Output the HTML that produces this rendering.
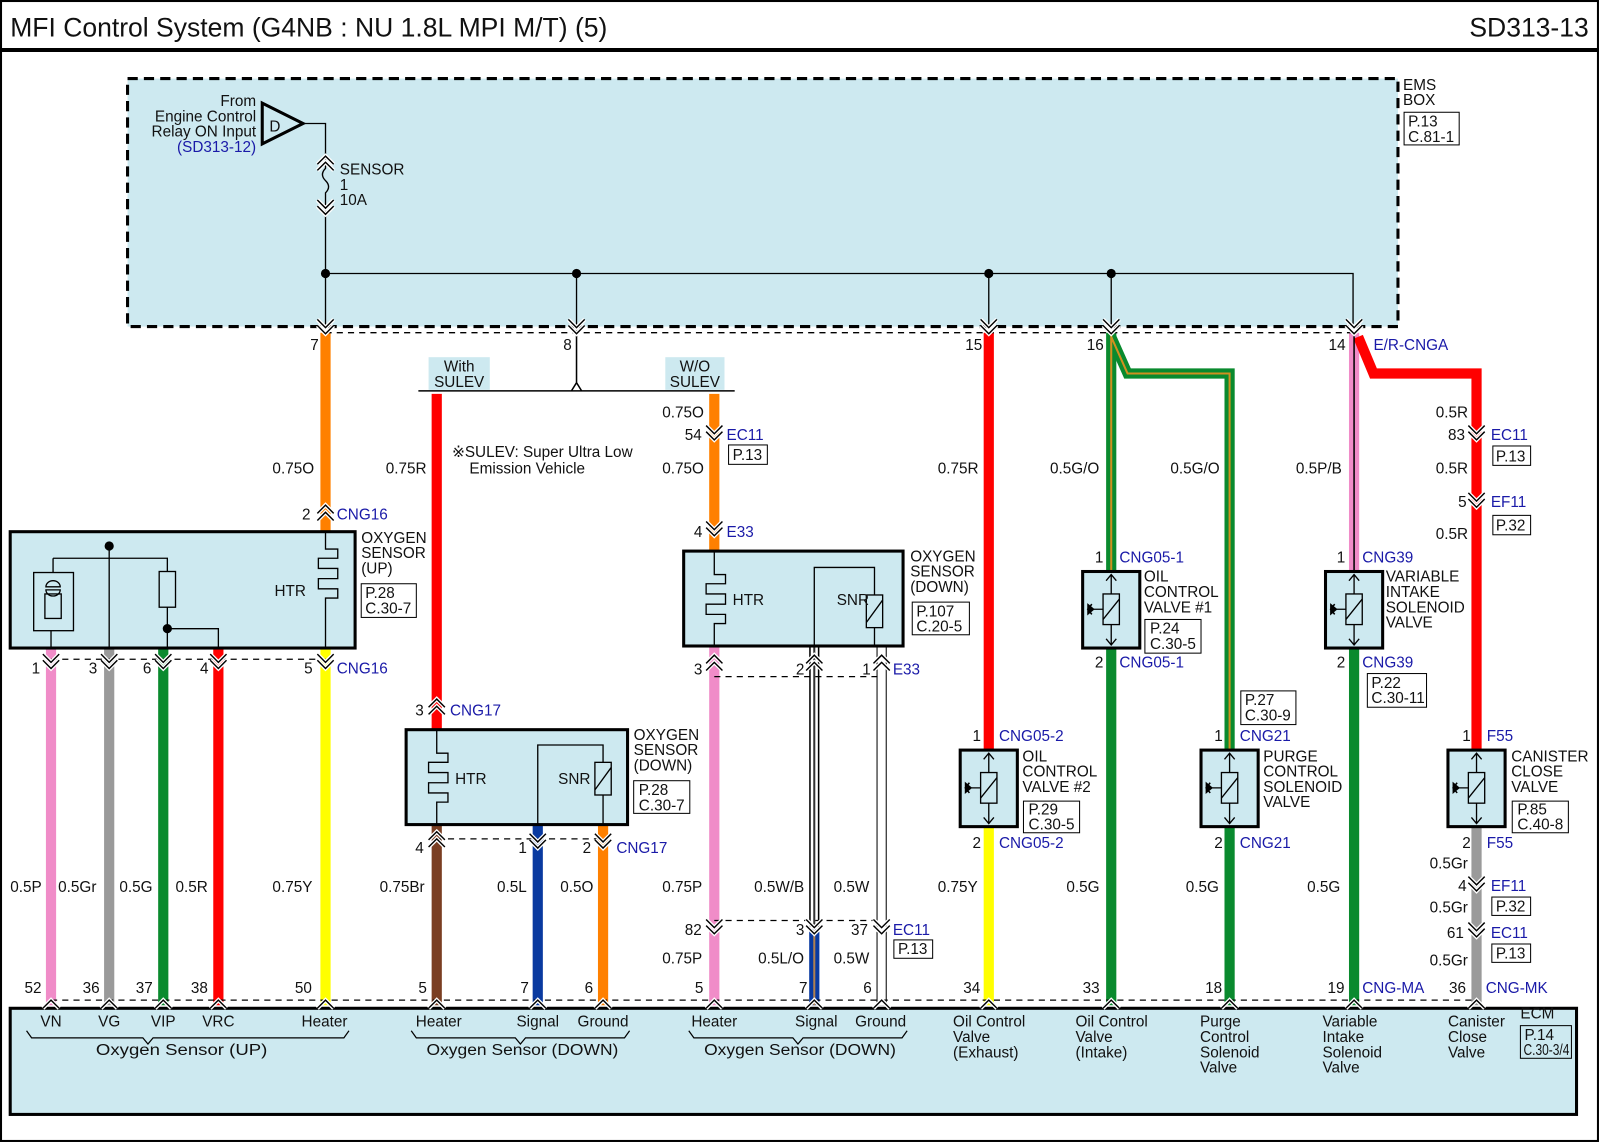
<!DOCTYPE html>
<html><head><meta charset="utf-8"><style>
html,body{margin:0;padding:0;background:#fff}
svg{display:block}
text{font-family:"Liberation Sans",sans-serif;font-size:15px;fill:#111}
.b{fill:#1a1aa8}
.t{font-size:26px}
</style></head><body>
<svg width="1600" height="1143" viewBox="0 0 1568 1120" preserveAspectRatio="none" xmlns="http://www.w3.org/2000/svg">
<defs>
<g id="cv"><path d="M-8,-9 L0,-1 L8,-9 M-8,-3 L0,5 L8,-3" stroke="#fff" stroke-width="4" fill="none"/><path d="M-8,-9 L0,-1 L8,-9 M-8,-3 L0,5 L8,-3" stroke="#000" stroke-width="1.4" fill="none"/></g>
<g id="tri"><path d="M-8,0 L0,-8 L8,0" stroke="#fff" stroke-width="4" fill="none"/><path d="M-8,0 L0,-8 L8,0" stroke="#000" stroke-width="1.4" fill="none"/></g>
<g id="valve">
<rect x="-28" y="0" width="56" height="75" fill="#cde9f0" stroke="#000" stroke-width="3"/>
<path d="M0,3 V72 M-5,9 L0,3 L5,9 M-5,66 L0,72 L5,66" stroke="#000" stroke-width="1.3" fill="none"/>
<rect x="-8" y="22" width="16" height="30" fill="#cde9f0" stroke="#000" stroke-width="1.3"/>
<path d="M-8,47 L8,27 M-8,37 H-17" stroke="#000" stroke-width="1.3"/>
<path d="M-23,32 L-17,37 L-23,42 Z M-23,32 L-23,42" fill="#000" stroke="#000"/>
<path d="M-19,32 L-23,37 L-19,42" fill="none" stroke="#000" stroke-width="1.5"/>
</g>
</defs>

<rect x="1" y="1" width="1565" height="1117" fill="none" stroke="#000" stroke-width="2"/>
<line x1="0" y1="49" x2="1567" y2="49" stroke="#000" stroke-width="4"/>
<text class="t" x="10" y="36">MFI Control System (G4NB : NU 1.8L MPI M/T) (5)</text>
<text class="t" x="1557" y="36" text-anchor="end">SD313-13</text>

<rect x="125" y="77" width="1245" height="243" fill="#cde9f0" stroke="#000" stroke-width="3" stroke-dasharray="10,6"/>
<text x="1375" y="88">EMS</text><text x="1375" y="103">BOX</text>
<rect x="1376" y="110" width="54" height="32" fill="none" stroke="#000"/>
<text x="1380" y="124">P.13</text><text x="1380" y="139">C.81-1</text>

<path d="M257,101 L297,121 L257,141 Z" fill="none" stroke="#000" stroke-width="3"/>
<text x="264" y="129" font-size="14">D</text>
<g text-anchor="end"><text x="251" y="104">From</text><text x="251" y="119">Engine Control</text><text x="251" y="134">Relay ON Input</text><text x="251" y="149" class="b">(SD313-12)</text></g>
<path d="M297,121 H319 V148 M319,210 V320" stroke="#000" stroke-width="1.3" fill="none"/>
<path d="M319,148 V165 q-6,6 0,12 q6,6 0,12 V210" stroke="#000" stroke-width="1.3" fill="none"/>
<use href="#cv" transform="translate(319,158) scale(1,-1)"/>
<use href="#cv" transform="translate(319,205)"/>
<text x="333" y="171">SENSOR</text><text x="333" y="186">1</text><text x="333" y="201">10A</text>
<path d="M319,268 H1326 V318 M565,268 V318 M969,268 V318 M1089,268 V318" stroke="#000" stroke-width="1.3" fill="none"/>
<g fill="#000"><circle cx="319" cy="268" r="4.5"/><circle cx="565" cy="268" r="4.5"/><circle cx="969" cy="268" r="4.5"/><circle cx="1089" cy="268" r="4.5"/></g>

<rect x="10" y="988" width="1535" height="104" fill="#cde9f0" stroke="#000" stroke-width="3"/>

<g stroke-width="10" fill="none">
<path d="M319,326 V520" stroke="#ff8000"/>
<path d="M319,636 V985" stroke="#ffff00"/>
<path d="M50,636 V985" stroke="#f08cc8"/>
<path d="M107,636 V985" stroke="#9a9a9a"/>
<path d="M160,636 V985" stroke="#0a8a2e"/>
<path d="M214,636 V985" stroke="#ff0000"/>
<path d="M428,386 V715" stroke="#ff0000"/>
<path d="M700,386 V540" stroke="#ff8000"/>
<path d="M428,808 V985" stroke="#7a3e22"/>
<path d="M527,808 V985" stroke="#0a3aa0"/>
<path d="M591,808 V985" stroke="#ff8000"/>
<path d="M700,634 V985" stroke="#f08cc8"/>
<path d="M969,326 V735" stroke="#ff0000"/>
<path d="M969,810 V985" stroke="#ffff00"/>
<path d="M1089,326 V560" stroke="#0a8a2e"/>
<path d="M1089,330 L1105,366 H1205 V735" stroke="#0a8a2e"/>
<path d="M1089,635 V985 M1205,810 V985 M1327,635 V985" stroke="#0a8a2e"/>
<path d="M1327,326 V560" stroke="#f08cc8"/>
<path d="M1331,330 L1346,366 H1447 V735" stroke="#ff0000"/>
<path d="M1447,810 V985" stroke="#9a9a9a"/>
<path d="M798,910 V985" stroke="#0a3aa0"/>
</g>
<g stroke-width="2" fill="none">
<path d="M1089,326 V560 M1089,330 L1105,366 H1205 V735" stroke="#d09020"/>
<path d="M1327,326 V560" stroke="#000" stroke-width="1.5"/>
<path d="M798,910 V985" stroke="#b08050"/>
</g>
<g fill="none">
<path d="M798,633 V910" stroke="#000" stroke-width="10"/>
<path d="M798,633 V910" stroke="#fff" stroke-width="7"/>
<path d="M798,633 V910" stroke="#333" stroke-width="2"/>
<path d="M864,633 V985" stroke="#000" stroke-width="10"/>
<path d="M864,633 V985" stroke="#fff" stroke-width="8"/>
</g>

<path d="M565,320 V375 L570,383 M565,375 L560,383 M410,383 H720" stroke="#000" stroke-width="1.5" fill="none"/>
<rect x="420" y="350" width="60" height="32" fill="#cde9f0"/>
<text x="450" y="364" text-anchor="middle">With</text><text x="450" y="379" text-anchor="middle">SULEV</text>
<rect x="652" y="350" width="58" height="32" fill="#cde9f0"/>
<text x="681" y="364" text-anchor="middle">W/O</text><text x="681" y="379" text-anchor="middle">SULEV</text>
<text x="443" y="448">※SULEV: Super Ultra Low</text><text x="460" y="464">Emission Vehicle</text>

<g stroke="#000" stroke-width="1.3" stroke-dasharray="6,5" fill="none">
<path d="M319,326 H1330"/>
<path d="M50,646 H319"/>
<path d="M428,822 H591"/>
<path d="M700,663 H864"/>
<path d="M700,902 H864"/>
<path d="M50,980 H1447"/>
</g>

<use href="#cv" transform="translate(319,322)"/><use href="#cv" transform="translate(565,322)"/><use href="#cv" transform="translate(969,322)"/><use href="#cv" transform="translate(1089,322)"/><use href="#cv" transform="translate(1327,322)"/>
<text x="304" y="343">7</text><text x="552" y="343">8</text><text x="946" y="343">15</text><text x="1065" y="343">16</text><text x="1302" y="343">14</text><text x="1346" y="343" class="b">E/R-CNGA</text>

<rect x="10" y="521" width="338" height="114" fill="#cde9f0" stroke="#000" stroke-width="3"/>
<g stroke="#000" stroke-width="1.3" fill="none">
<path d="M52,547 H164 V560 M107,535 V635 M52,547 V561 M164,595 V635 M164,616 H214 V635 M50,618 V635"/>
<rect x="33" y="561" width="39" height="57"/>
<rect x="44" y="582" width="16" height="24"/>
<rect x="156" y="560" width="16" height="35"/>
<path d="M319,520 V538 H331 V547 H312 V557 H331 V567 H312 V577 H331 V586 H319 V635"/>
</g>
<path d="M45,575 a7,6 0 0 1 14,0 Z M45,578 a7,6 0 0 0 14,0 Z" fill="none" stroke="#000" stroke-width="1.3"/>
<circle cx="107" cy="535" r="4.5"/><circle cx="164" cy="616" r="4.5"/>
<text x="269" y="584">HTR</text>
<use href="#tri" transform="translate(319,510)"/><use href="#tri" transform="translate(319,503)"/>
<text x="296" y="509">2</text><text x="330" y="509" class="b">CNG16</text>
<text x="354" y="532">OXYGEN</text><text x="354" y="547">SENSOR</text><text x="354" y="562">(UP)</text>
<rect x="354" y="572" width="54" height="33" fill="none" stroke="#000"/><text x="358" y="586">P.28</text><text x="358" y="601">C.30-7</text>
<use href="#cv" transform="translate(50,650)"/><use href="#cv" transform="translate(107,650)"/><use href="#cv" transform="translate(160,650)"/><use href="#cv" transform="translate(214,650)"/><use href="#cv" transform="translate(319,650)"/>
<text x="31" y="660">1</text><text x="87" y="660">3</text><text x="140" y="660">6</text><text x="196" y="660">4</text><text x="298" y="660">5</text><text x="330" y="660" class="b">CNG16</text>

<use href="#tri" transform="translate(428,700)"/><use href="#tri" transform="translate(428,693)"/>
<text x="407" y="701">3</text><text x="441" y="701" class="b">CNG17</text>
<rect x="398" y="715" width="217" height="93" fill="#cde9f0" stroke="#000" stroke-width="3"/>
<g stroke="#000" stroke-width="1.3" fill="none">
<path d="M428,715 V738 H439 V747 H420 V757 H439 V767 H420 V777 H439 V786 H428 V808"/>
<path d="M527,808 V730 H591 V747 M591,779 V808"/>
<rect x="583" y="747" width="16" height="32"/><path d="M583,774 L599,752"/>
</g>
<text x="446" y="768">HTR</text><text x="547" y="768">SNR</text>
<text x="621" y="725">OXYGEN</text><text x="621" y="740">SENSOR</text><text x="621" y="755">(DOWN)</text>
<rect x="621" y="765" width="55" height="32" fill="none" stroke="#000"/><text x="626" y="779">P.28</text><text x="626" y="794">C.30-7</text>
<use href="#tri" transform="translate(428,830)"/><use href="#tri" transform="translate(428,823)"/>
<use href="#cv" transform="translate(527,826)"/><use href="#cv" transform="translate(591,826)"/>
<text x="407" y="836">4</text><text x="508" y="836">1</text><text x="571" y="836">2</text><text x="604" y="836" class="b">CNG17</text>

<text x="649" y="409">0.75O</text>
<use href="#cv" transform="translate(700,426)"/><text x="671" y="431">54</text><text x="712" y="431" class="b">EC11</text>
<rect x="714" y="436" width="38" height="19" fill="none" stroke="#000"/><text x="718" y="451">P.13</text>
<text x="649" y="464">0.75O</text>
<use href="#cv" transform="translate(700,520)"/><text x="680" y="526">4</text><text x="712" y="526" class="b">E33</text>
<rect x="670" y="540" width="215" height="93" fill="#cde9f0" stroke="#000" stroke-width="3"/>
<g stroke="#000" stroke-width="1.3" fill="none">
<path d="M700,540 V563 H711 V572 H692 V582 H711 V592 H692 V602 H711 V611 H700 V633"/>
<path d="M798,633 V556 H857 V583 M857,615 V633"/>
<rect x="849" y="583" width="16" height="32"/><path d="M849,610 L865,588"/>
</g>
<text x="718" y="593">HTR</text><text x="820" y="593">SNR</text>
<text x="892" y="550">OXYGEN</text><text x="892" y="565">SENSOR</text><text x="892" y="580">(DOWN)</text>
<rect x="894" y="590" width="56" height="32" fill="none" stroke="#000"/><text x="898" y="604">P.107</text><text x="898" y="619">C.20-5</text>
<use href="#tri" transform="translate(700,657)"/><use href="#tri" transform="translate(700,650)"/>
<use href="#tri" transform="translate(798,657)"/><use href="#tri" transform="translate(798,650)"/>
<use href="#tri" transform="translate(864,657)"/><use href="#tri" transform="translate(864,650)"/>
<text x="680" y="661">3</text><text x="780" y="661">2</text><text x="845" y="661">1</text><text x="875" y="661" class="b">E33</text>
<use href="#cv" transform="translate(700,910)"/><use href="#cv" transform="translate(798,910)"/><use href="#cv" transform="translate(864,910)"/>
<text x="671" y="916">82</text><text x="780" y="916">3</text><text x="834" y="916">37</text><text x="875" y="916" class="b">EC11</text>
<rect x="876" y="921" width="38" height="18" fill="none" stroke="#000"/><text x="880" y="935">P.13</text>

<use href="#valve" transform="translate(969,735)"/>
<use href="#valve" transform="translate(1089,560)"/>
<use href="#valve" transform="translate(1205,735)"/>
<use href="#valve" transform="translate(1327,560)"/>
<use href="#valve" transform="translate(1447,735)"/>

<text x="953" y="726">1</text><text x="979" y="726" class="b">CNG05-2</text>
<text x="1002" y="746">OIL</text><text x="1002" y="761">CONTROL</text><text x="1002" y="776">VALVE #2</text>
<rect x="1003" y="785" width="55" height="31" fill="none" stroke="#000"/><text x="1008" y="798">P.29</text><text x="1008" y="813">C.30-5</text>
<text x="953" y="831">2</text><text x="979" y="831" class="b">CNG05-2</text>

<text x="1073" y="551">1</text><text x="1097" y="551" class="b">CNG05-1</text>
<text x="1121" y="570">OIL</text><text x="1121" y="585">CONTROL</text><text x="1121" y="600">VALVE #1</text>
<rect x="1122" y="607" width="55" height="33" fill="none" stroke="#000"/><text x="1127" y="621">P.24</text><text x="1127" y="636">C.30-5</text>
<text x="1073" y="654">2</text><text x="1097" y="654" class="b">CNG05-1</text>

<rect x="1216" y="677" width="54" height="33" fill="none" stroke="#000"/><text x="1220" y="691">P.27</text><text x="1220" y="706">C.30-9</text>
<text x="1190" y="726">1</text><text x="1215" y="726" class="b">CNG21</text>
<text x="1238" y="746">PURGE</text><text x="1238" y="761">CONTROL</text><text x="1238" y="776">SOLENOID</text><text x="1238" y="791">VALVE</text>
<text x="1190" y="831">2</text><text x="1215" y="831" class="b">CNG21</text>

<text x="1310" y="551">1</text><text x="1335" y="551" class="b">CNG39</text>
<text x="1358" y="570">VARIABLE</text><text x="1358" y="585">INTAKE</text><text x="1358" y="600">SOLENOID</text><text x="1358" y="615">VALVE</text>
<text x="1310" y="654">2</text><text x="1335" y="654" class="b">CNG39</text>
<rect x="1340" y="660" width="58" height="33" fill="none" stroke="#000"/><text x="1344" y="674">P.22</text><text x="1344" y="689" font-size="14">C.30-11</text>

<text x="1433" y="726">1</text><text x="1457" y="726" class="b">F55</text>
<text x="1481" y="746">CANISTER</text><text x="1481" y="761">CLOSE</text><text x="1481" y="776">VALVE</text>
<rect x="1482" y="785" width="55" height="31" fill="none" stroke="#000"/><text x="1487" y="798">P.85</text><text x="1487" y="813">C.40-8</text>
<text x="1433" y="831">2</text><text x="1457" y="831" class="b">F55</text>

<text x="1407" y="409">0.5R</text>
<use href="#cv" transform="translate(1447,426)"/><text x="1419" y="431">83</text><text x="1461" y="431" class="b">EC11</text>
<rect x="1463" y="437" width="37" height="19" fill="none" stroke="#000"/><text x="1466" y="452">P.13</text>
<text x="1407" y="464">0.5R</text>
<use href="#cv" transform="translate(1447,492)"/><text x="1429" y="497">5</text><text x="1461" y="497" class="b">EF11</text>
<rect x="1463" y="505" width="37" height="19" fill="none" stroke="#000"/><text x="1466" y="520">P.32</text>
<text x="1407" y="528">0.5R</text>
<text x="1401" y="851">0.5Gr</text>
<use href="#cv" transform="translate(1447,868)"/><text x="1429" y="873">4</text><text x="1461" y="873" class="b">EF11</text>
<rect x="1462" y="879" width="38" height="18" fill="none" stroke="#000"/><text x="1466" y="893">P.32</text>
<text x="1401" y="894">0.5Gr</text>
<use href="#cv" transform="translate(1447,913)"/><text x="1418" y="919">61</text><text x="1461" y="919" class="b">EC11</text>
<rect x="1462" y="925" width="38" height="18" fill="none" stroke="#000"/><text x="1466" y="939">P.13</text>
<text x="1401" y="946">0.5Gr</text>

<text x="267" y="464">0.75O</text><text x="378" y="464">0.75R</text><text x="919" y="464">0.75R</text>
<text x="1029" y="464">0.5G/O</text><text x="1147" y="464">0.5G/O</text><text x="1270" y="464">0.5P/B</text>
<g>
<text x="10" y="874">0.5P</text><text x="57" y="874">0.5Gr</text><text x="117" y="874">0.5G</text><text x="172" y="874">0.5R</text><text x="267" y="874">0.75Y</text>
<text x="372" y="874">0.75Br</text><text x="487" y="874">0.5L</text><text x="549" y="874">0.5O</text>
<text x="649" y="874">0.75P</text><text x="739" y="874">0.5W/B</text><text x="817" y="874">0.5W</text>
<text x="919" y="874">0.75Y</text><text x="1045" y="874">0.5G</text><text x="1162" y="874">0.5G</text><text x="1281" y="874">0.5G</text>
<text x="649" y="944">0.75P</text><text x="743" y="944">0.5L/O</text><text x="817" y="944">0.5W</text>
</g>

<g>
<use href="#tri" transform="translate(50,988)"/><use href="#tri" transform="translate(107,988)"/><use href="#tri" transform="translate(160,988)"/><use href="#tri" transform="translate(214,988)"/><use href="#tri" transform="translate(319,988)"/>
<use href="#tri" transform="translate(428,988)"/><use href="#tri" transform="translate(527,988)"/><use href="#tri" transform="translate(591,988)"/>
<use href="#tri" transform="translate(700,988)"/><use href="#tri" transform="translate(798,988)"/><use href="#tri" transform="translate(864,988)"/>
<use href="#tri" transform="translate(969,988)"/><use href="#tri" transform="translate(1089,988)"/><use href="#tri" transform="translate(1205,988)"/><use href="#tri" transform="translate(1327,988)"/><use href="#tri" transform="translate(1447,988)"/>
</g>
<text x="24" y="973">52</text><text x="81" y="973">36</text><text x="133" y="973">37</text><text x="187" y="973">38</text><text x="289" y="973">50</text>
<text x="410" y="973">5</text><text x="510" y="973">7</text><text x="573" y="973">6</text>
<text x="681" y="973">5</text><text x="783" y="973">7</text><text x="846" y="973">6</text>
<text x="944" y="973">34</text><text x="1061" y="973">33</text><text x="1181" y="973">18</text><text x="1301" y="973">19</text><text x="1335" y="973" class="b">CNG-MA</text>
<text x="1420" y="973">36</text><text x="1456" y="973" class="b">CNG-MK</text>

<text x="1490" y="998">ECM</text>
<rect x="1490" y="1005" width="50" height="32" fill="none" stroke="#000"/><text x="1494" y="1019" font-size="14">P.14</text><text x="1493" y="1034" font-size="14" textLength="45" lengthAdjust="spacingAndGlyphs">C.30-3/4</text>

<g text-anchor="middle" font-size="16">
<text x="50" y="1006" font-size="16">VN</text><text x="107" y="1006" font-size="16">VG</text><text x="160" y="1006" font-size="16">VIP</text><text x="214" y="1006" font-size="16">VRC</text><text x="318" y="1006" font-size="16">Heater</text>
<text x="430" y="1006" font-size="16">Heater</text><text x="527" y="1006" font-size="16">Signal</text><text x="591" y="1006" font-size="16">Ground</text>
<text x="700" y="1006" font-size="16">Heater</text><text x="800" y="1006" font-size="16">Signal</text><text x="863" y="1006" font-size="16">Ground</text>
<text x="178" y="1034" font-size="16" textLength="168" lengthAdjust="spacingAndGlyphs">Oxygen Sensor (UP)</text>
<text x="512" y="1034" font-size="16" textLength="188" lengthAdjust="spacingAndGlyphs">Oxygen Sensor (DOWN)</text>
<text x="784" y="1034" font-size="16" textLength="188" lengthAdjust="spacingAndGlyphs">Oxygen Sensor (DOWN)</text>
</g>
<g stroke="#000" stroke-width="1.2" fill="none">
<path d="M26,1010 l5,7 H140 l5,6 l5,-6 H337 l5,-7"/>
<path d="M403,1010 l5,7 H505 l5,6 l5,-6 H612 l5,-7"/>
<path d="M675,1010 l5,7 H777 l5,6 l5,-6 H884 l5,-7"/>
</g>
<text x="934" y="1006">Oil Control</text><text x="934" y="1021">Valve</text><text x="934" y="1036">(Exhaust)</text>
<text x="1054" y="1006">Oil Control</text><text x="1054" y="1021">Valve</text><text x="1054" y="1036">(Intake)</text>
<text x="1176" y="1006">Purge</text><text x="1176" y="1021">Control</text><text x="1176" y="1036">Solenoid</text><text x="1176" y="1051">Valve</text>
<text x="1296" y="1006">Variable</text><text x="1296" y="1021">Intake</text><text x="1296" y="1036">Solenoid</text><text x="1296" y="1051">Valve</text>
<text x="1419" y="1006">Canister</text><text x="1419" y="1021">Close</text><text x="1419" y="1036">Valve</text>
</svg>
</body></html>
